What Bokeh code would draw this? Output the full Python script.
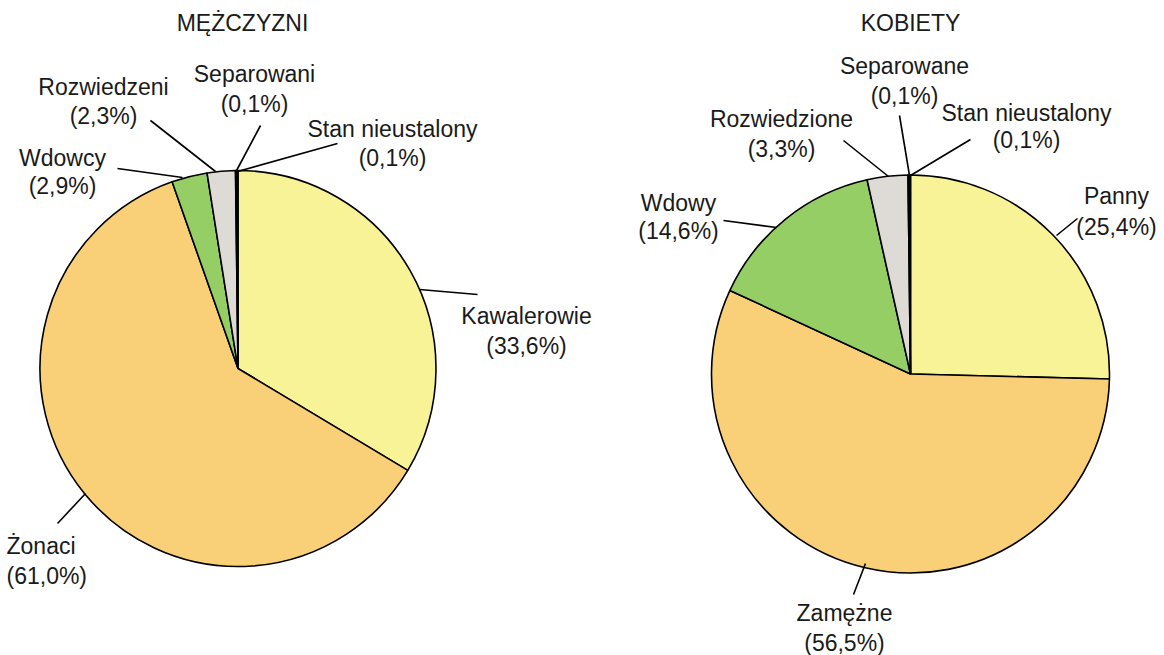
import math
from bokeh.plotting import figure
from bokeh.models import Range1d, ColumnDataSource
from bokeh.core.properties import value
from bokeh.embed import file_html
from bokeh.resources import INLINE

# ---------------- data ----------------
titles = ["MĘŻCZYZNI", "KOBIETY"]
men_labels = ["Kawalerowie", "Żonaci", "Wdowcy", "Rozwiedzeni", "Separowani", "Stan nieustalony"]
men_values = [33.6, 61.0, 2.9, 2.3, 0.1, 0.1]
women_labels = ["Panny", "Zamężne", "Wdowy", "Rozwiedzione", "Separowane", "Stan nieustalony"]
women_values = [25.4, 56.5, 14.6, 3.3, 0.1, 0.1]

# ---------------- styles / layout ----------------
colors = ["#F8F396", "#F9D078", "#96CE66", "#DEDBD7", "#2A2A2A", "#000000"]
FONT = value("Liberation Sans")
FS = "23px"
W, H = 1164, 655

def sy(y):
    return H - y

pies = [
    dict(cx=237.5, cy=368.0, r=198.0, title_x=242, title_y=22,
         label_pos=[(526, 315, 345, "center"), (6, 545, 575, "left"), (62, 157, 185, "center"),
                    (103, 86, 115, "center"), (254, 73, 103, "center"), (392, 128, 157, "center")],
         leaders=[((419, 289), (477, 294)), ((85, 493), (57, 523)), ((182, 177), (117, 168)),
                  ((215, 171), (150, 120)), ((235, 172), (260, 125)), ((237, 171), (337, 143))]),
    dict(cx=910.0, cy=373.5, r=199.0, title_x=910, title_y=22,
         label_pos=[(1116, 195, 226, "center"), (844, 612, 642, "center"), (678, 202, 230, "center"),
                    (781, 118, 148, "center"), (904, 65, 95, "center"), (1026, 112, 139, "center")],
         leaders=[((1056, 235), (1077, 218)), ((865, 563), (853, 594)), ((776, 227), (723, 220)),
                  ((888, 176), (843, 140)), ((909, 175), (899, 115)), ((910, 175), (970, 139))]),
]

p = figure(width=W, height=H, output_backend="svg", toolbar_location=None,
           x_range=Range1d(0, W), y_range=Range1d(0, H), min_border=0)
p.axis.visible = False
p.grid.visible = False
p.outline_line_color = None
p.background_fill_color = "white"

for pie, labels, vals, title in zip(pies, [men_labels, women_labels], [men_values, women_values], titles):
    total = sum(vals)
    starts, ends = [], []
    cum = 0.0
    for v in vals:
        starts.append(math.pi / 2 - 2 * math.pi * cum / total)
        cum += v
        ends.append(math.pi / 2 - 2 * math.pi * cum / total)
    src = ColumnDataSource(dict(x=[pie["cx"]] * len(vals), y=[sy(pie["cy"])] * len(vals),
                                start=starts, end=ends, color=colors[:len(vals)]))
    p.wedge(x="x", y="y", radius=pie["r"], start_angle="start", end_angle="end",
            direction="clock", fill_color="color", line_color="black", line_width=1.6, source=src)

    x0 = [a[0] for a, b in pie["leaders"]]
    y0 = [sy(a[1]) for a, b in pie["leaders"]]
    x1 = [b[0] for a, b in pie["leaders"]]
    y1 = [sy(b[1]) for a, b in pie["leaders"]]
    p.segment(x0=x0, y0=y0, x1=x1, y1=y1, line_color="black", line_width=1.6)

    for lab, v, (lx, ly1, ly2, al) in zip(labels, vals, pie["label_pos"]):
        pct = "(" + f"{v:.1f}".replace(".", ",") + "%)"
        p.text(x=[lx, lx], y=[sy(ly1), sy(ly2)], text=[lab, pct], text_font=FONT,
               text_font_size=FS, text_align=al, text_baseline="middle", text_color="#1a1a1a")

    p.text(x=[pie["title_x"]], y=[sy(pie["title_y"])], text=[title], text_font=FONT,
           text_font_size=FS, text_align="center", text_baseline="middle", text_color="#1a1a1a")

open("out.html", "w").write(file_html(p, INLINE))
